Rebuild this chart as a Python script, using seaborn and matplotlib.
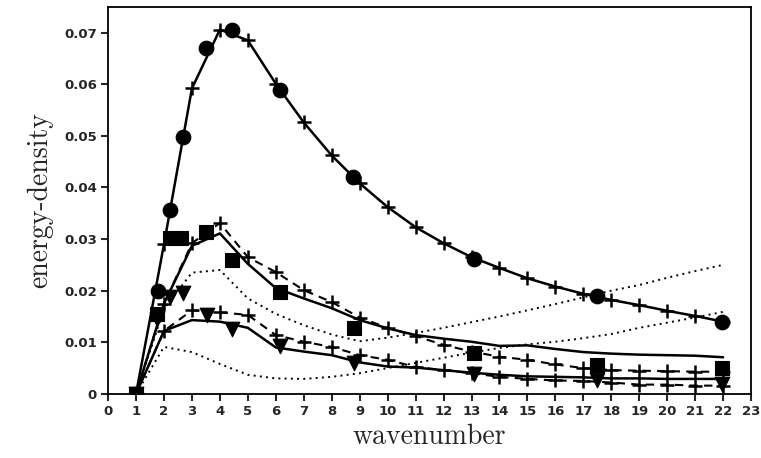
import matplotlib
matplotlib.use("Agg")
import matplotlib.pyplot as plt
import seaborn as sns

# wavenumbers for the model curves
wn = list(range(1, 23))

# top curve (solid, + markers)
curve_a = [0, 0.029, 0.0592, 0.0706, 0.0685, 0.0601, 0.0526, 0.0462, 0.0408, 0.0362, 0.0323,
           0.0292, 0.0265, 0.0244, 0.0224, 0.0208, 0.0194, 0.0182, 0.0172, 0.0161, 0.0151, 0.0140]
# middle solid curve
curve_b = [0, 0.0175, 0.0287, 0.0311, 0.0252, 0.0205, 0.0185, 0.0166, 0.0143, 0.0127, 0.0114,
           0.0107, 0.0101, 0.0093, 0.0094, 0.0087, 0.0081, 0.0078, 0.0076, 0.0075, 0.0074, 0.0071]
# middle dashed curve (+ markers)
curve_b2 = [0, 0.0175, 0.0292, 0.0331, 0.0265, 0.0236, 0.0201, 0.0178, 0.0148, 0.0128, 0.0112,
            0.0095, 0.0082, 0.0072, 0.0066, 0.0057, 0.0050, 0.0046, 0.0045, 0.0044, 0.0043, 0.0043]
# lower solid curve
curve_c = [0, 0.0122, 0.0143, 0.0140, 0.0128, 0.0090, 0.0082, 0.0075, 0.0061, 0.0053, 0.0051,
           0.0046, 0.0041, 0.0037, 0.0034, 0.0033, 0.0032, 0.0030, 0.0030, 0.0029, 0.0029, 0.0029]
# lower dashed curve (+ markers)
curve_c2 = [0, 0.0122, 0.0162, 0.0158, 0.0153, 0.0114, 0.0101, 0.0091, 0.0075, 0.0066, 0.0052,
            0.0046, 0.0040, 0.0033, 0.0029, 0.0026, 0.0025, 0.0022, 0.0018, 0.0018, 0.0016, 0.0016]
# dotted curves
dot_up = [0, 0.0165, 0.0235, 0.0240, 0.0185, 0.0155, 0.0133, 0.0115, 0.0102, 0.0109, 0.0118,
          0.0128, 0.0139, 0.0150, 0.0162, 0.0174, 0.0187, 0.0200, 0.0211, 0.0225, 0.0238, 0.0250]
dot_low = [0, 0.0091, 0.0081, 0.0058, 0.0037, 0.0030, 0.0029, 0.0033, 0.0040, 0.0050, 0.0060,
           0.0070, 0.0080, 0.0089, 0.0096, 0.0101, 0.0108, 0.0116, 0.0128, 0.0138, 0.0148, 0.0159]

# sampled points (markers only)
circ_x = [1.0, 1.8, 2.2, 2.68, 3.5, 4.43, 6.15, 8.75, 13.1, 17.5, 21.95]
circ_y = [0, 0.0200, 0.0356, 0.0497, 0.0671, 0.0706, 0.0588, 0.0420, 0.0262, 0.0190, 0.0140]
sq_x = [1.0, 1.75, 2.2, 2.6, 3.5, 4.43, 6.15, 8.8, 13.1, 17.5, 21.95]
sq_y = [0, 0.0155, 0.0303, 0.0303, 0.0313, 0.0260, 0.0198, 0.0127, 0.0079, 0.0056, 0.0050]
tri_x = [1.0, 1.75, 2.2, 2.68, 3.55, 4.43, 6.15, 8.8, 13.1, 17.5, 21.95]
tri_y = [0, 0.0145, 0.0188, 0.0195, 0.0153, 0.0125, 0.0093, 0.0060, 0.0038, 0.0027, 0.0019]

xticks = list(range(0, 24))
yticks = [0, 0.01, 0.02, 0.03, 0.04, 0.05, 0.06, 0.07]
ytick_labels = ["0", "0.01", "0.02", "0.03", "0.04", "0.05", "0.06", "0.07"]

sns.set_style("ticks")
plt.rcParams["font.family"] = ["DejaVu Sans"]

fig = plt.figure(figsize=(7.61, 4.58), dpi=100)
ax = fig.add_axes([0.142, 0.140, 0.845, 0.845])

k = dict(color="black", ax=ax, legend=False)
plus = dict(marker="+", markersize=10, markeredgewidth=1.8, markeredgecolor="black")
dotted = (0, (1, 2.2))
dashed = (0, (4, 3))
sns.lineplot(x=wn, y=dot_up, linestyle=dotted, linewidth=1.4, **k)
sns.lineplot(x=wn, y=dot_low, linestyle=dotted, linewidth=1.4, **k)
sns.lineplot(x=wn, y=curve_c, linewidth=1.8, **k)
sns.lineplot(x=wn, y=curve_b, linewidth=1.8, **k)
sns.lineplot(x=wn, y=curve_b2, linestyle=dashed, linewidth=1.5, **plus, **k)
sns.lineplot(x=wn, y=curve_c2, linestyle=dashed, linewidth=1.5, **plus, **k)
sns.lineplot(x=wn, y=curve_a, linewidth=1.8, **plus, **k)

sns.scatterplot(x=circ_x, y=circ_y, marker="o", s=110, color="black", edgecolor="black",
                ax=ax, zorder=5)
sns.scatterplot(x=sq_x, y=sq_y, marker="s", s=95, color="black", edgecolor="black",
                ax=ax, zorder=5)
sns.scatterplot(x=tri_x, y=tri_y, marker="v", s=110, color="black", edgecolor="black",
                ax=ax, zorder=5)

ax.set_xlim(0, 23)
ax.set_ylim(0, 0.075)
ax.set_xticks(xticks)
ax.set_xticklabels([str(t) for t in xticks], fontsize=9.5, fontweight="bold")
ax.set_yticks(yticks)
ax.set_yticklabels(ytick_labels, fontsize=9.5, fontweight="bold")
ax.tick_params(direction="out", length=5, width=1.5, pad=3)
for sp in ax.spines.values():
    sp.set_linewidth(1.3)
    sp.set_color("black")

ax.set_xlabel("wavenumber", family="cmr10", fontsize=20, labelpad=4)
ax.set_ylabel("energy-density", family="cmr10", fontsize=20, labelpad=8)

fig.savefig("out.png", dpi=100)
